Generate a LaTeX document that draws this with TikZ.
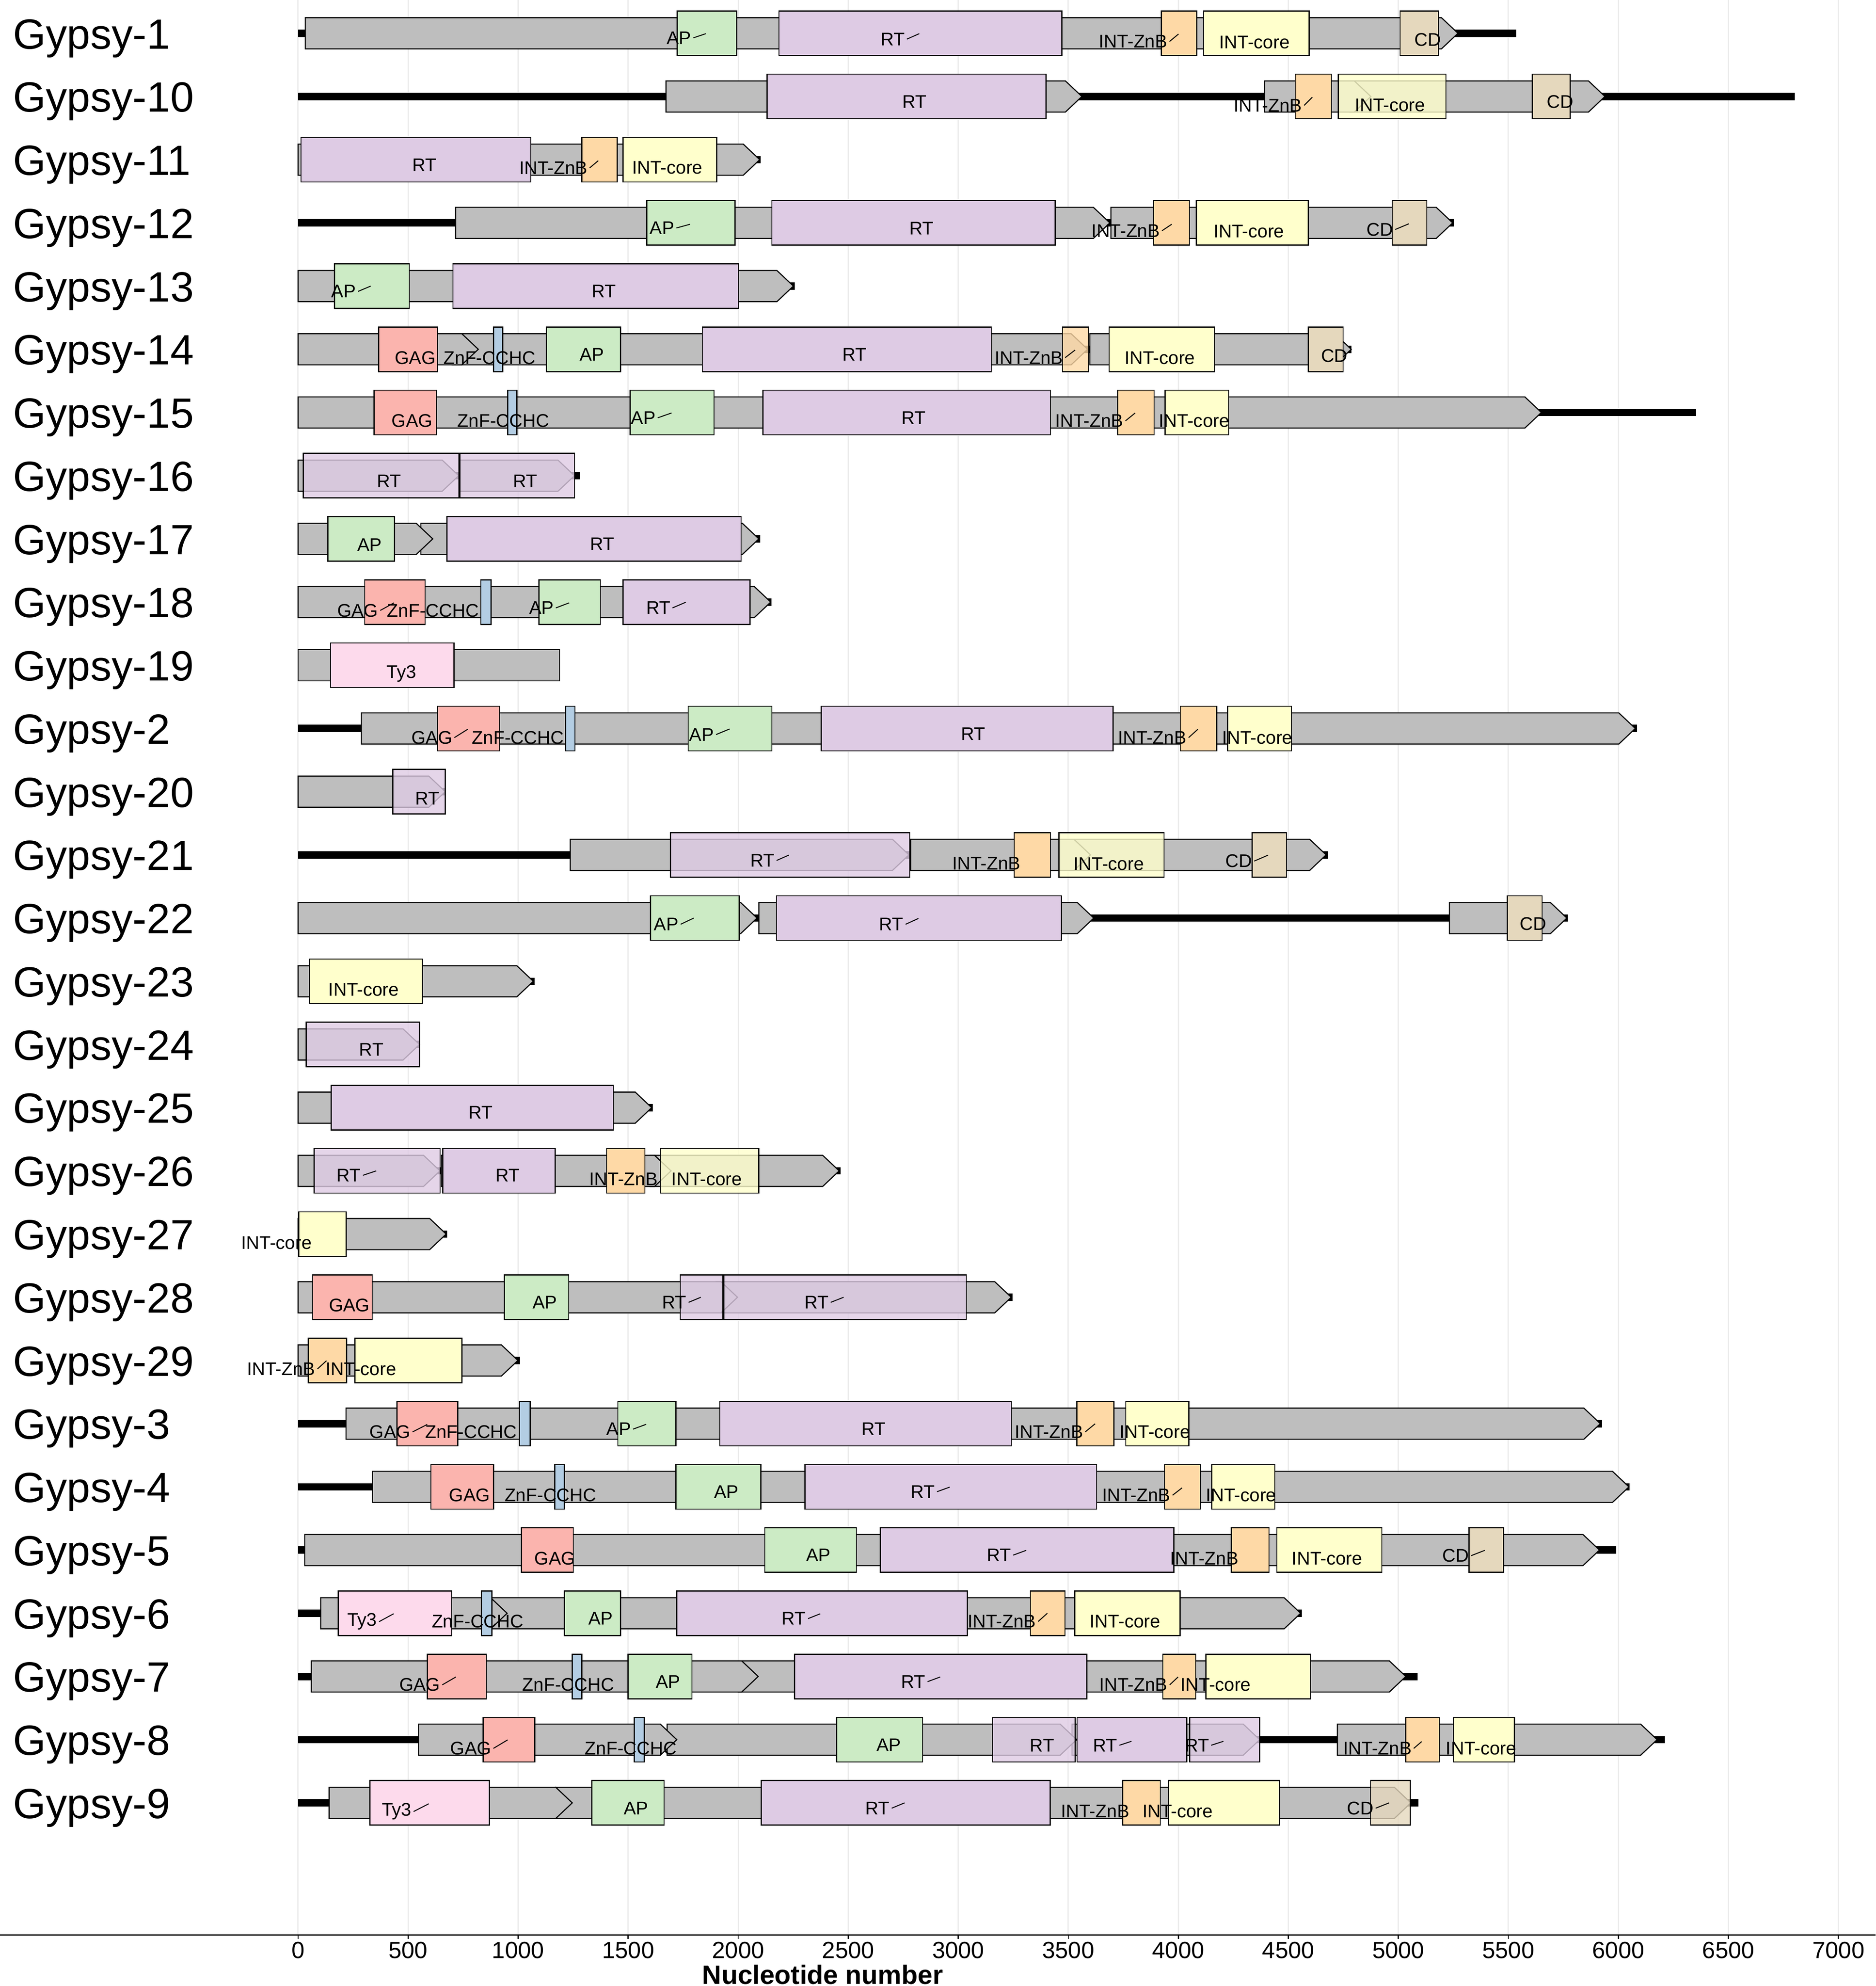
\documentclass[tikz,border=0pt]{standalone}
\usepackage{fontspec}
\setmainfont{Liberation Sans}
\usepackage{tikz}
\definecolor{gagpink}{HTML}{FBB4AE}
\definecolor{znfblue}{HTML}{B3CDE3}
\definecolor{apgreen}{HTML}{CCEBC5}
\definecolor{rtlilac}{HTML}{DECBE4}
\definecolor{znborange}{HTML}{FED9A6}
\definecolor{coreyellow}{HTML}{FFFFCC}
\definecolor{cdtan}{HTML}{E5D8BD}
\definecolor{tyrose}{HTML}{FDDAEC}
\definecolor{genegrey}{HTML}{BEBEBE}
\definecolor{gridgrey}{HTML}{EBEBEB}

\begin{document}
\begin{tikzpicture}[x=0.17386pt, y=-49.92pt,
  gene/.style={draw=black, line width=0.85pt, fill=genegrey},
  dom/.style={draw=black, line width=0.85pt},
  gagbox/.style={dom, fill=gagpink},
  znfbox/.style={dom, fill=znfblue},
  apbox/.style={dom, fill=apgreen},
  rtbox/.style={dom, fill=rtlilac},
  znbbox/.style={dom, fill=znborange},
  corebox/.style={dom, fill=coreyellow},
  cdbox/.style={dom, fill=cdtan},
  tybox/.style={dom, fill=tyrose},
  rtfade/.style={rtbox, fill opacity=0.8},
  znbfade/.style={znbbox, fill opacity=0.8},
  corefade/.style={corebox, fill opacity=0.8},
  cdfade/.style={cdbox, fill opacity=0.8},
  lab/.style={anchor=base, inner sep=0pt, font=\fontsize{14.5}{14.5}\selectfont},
  seg/.style={line width=0.75pt},
  rowlab/.style={anchor=base west, inner sep=0pt, font=\fontsize{33.4}{33.4}\selectfont},
  ticklab/.style={anchor=base, inner sep=0pt, font=\fontsize{18.5}{18.5}\selectfont}]
\useasboundingbox (-1354.6,-0.5268) rectangle (7169.6,30.898);
% Grid for plotting
\foreach \t in {0,500,...,7000} \draw[gridgrey, line width=1pt] (\t,-0.5268) -- (\t,30.092);
% element extent
\foreach \r/\e in {0/5536,1/6802,2/2103,3/5252,4/2257,5/4787,6/6353,7/1280,8/2100,9/2151,
  10/1188,11/6085,12/669,13/4680,14/5770,15/1075,16/552,17/1612,18/2465,19/677,
  20/3246,21/1008,22/5925,23/6051,24/5990,25/4562,26/5088,27/6211,28/5091}
  \draw[line width=5.8pt] (0,\r) -- (\e,\r);
% genes
\foreach \r/\a/\b in {0/33/5271, 1/1672/3562, 1/4780/5939, 1/4392/4875, 2/0/2098,
  3/716/3689, 3/3694/5247, 4/0/2251, 5/700/3588, 5/0/819, 5/3598/4786, 6/0/5650,
  7/0/730, 7/734/1256, 8/558/2094, 8/0/612, 9/0/2148, 11/288/6077, 12/0/669,
  13/1237/2776, 13/3500/4672, 13/2784/3601, 14/0/2086, 14/2094/3616, 14/5232/5766,
  15/0/1069, 16/0/552, 17/0/1607, 18/0/645, 18/1600/2459, 18/651/1695, 19/0/673,
  20/1900/3241, 20/0/1997, 21/0/999, 22/218/5918, 23/338/6048, 24/30/5914,
  25/850/4556, 25/103/950, 26/2000/5034, 26/60/2091, 27/3517/4370, 27/1677/3538,
  27/547/1721, 27/4723/6176, 28/1170/5057, 28/141/1246}
  \draw[gene] (\a,\r-0.2464) -- (\b-75,\r-0.2464) -- (\b,\r) -- (\b-75,\r+0.2464) -- (\a,\r+0.2464) -- cycle;
\draw[gene] (0,10-0.2464) rectangle (1188,10+0.2464);
% domains
\foreach \r/\a/\b/\s in {0/1723/1993/apbox, 0/2185/3471/rtbox, 0/3923/4084/znbbox, 0/4115/4595/corebox, 0/5008/5182/cdbox,
  1/2131/3399/rtbox, 1/4531/4696/znbbox, 1/4727/5216/corefade, 1/5609/5781/cdbox,
  2/13/1058/rtbox, 2/1290/1450/znbbox, 2/1477/1902/corebox,
  3/1585/1986/apbox, 3/2153/3441/rtbox, 3/3888/4051/znbbox, 3/4082/4591/corebox, 3/4972/5129/cdbox,
  4/166/505/apbox, 4/704/2002/rtbox,
  5/366/634/gagbox, 5/888/930/znfbox, 5/1129/1465/apbox, 5/1837/3150/rtbox, 5/3474/3593/znbfade, 5/3686/4164/corebox, 5/4591/4749/cdbox,
  6/345/629/gagbox, 6/953/994/znfbox, 6/1509/1890/apbox, 6/2112/3419/rtbox, 6/3724/3890/znbbox, 6/3940/4229/corebox,
  7/24/730/rtfade, 7/735/1256/rtfade,
  8/135/438/apbox, 8/676/2013/rtbox,
  9/303/577/gagbox, 9/831/877/znfbox, 9/1095/1374/apbox, 9/1477/2054/rtbox,
  10/148/709/tybox,
  11/634/916/gagbox, 11/1216/1258/znfbox, 11/1773/2153/apbox, 11/2377/3704/rtbox, 11/4009/4175/znbbox, 11/4224/4514/corebox,
  12/431/669/rtfade,
  13/1692/2779/rtfade, 13/3254/3419/znbbox, 13/3458/3935/corefade, 13/4335/4492/cdbox,
  14/1602/2005/apbox, 14/2174/3469/rtbox, 14/5495/5653/cdbox,
  15/51/565/corebox,
  16/37/552/rtfade,
  17/151/1432/rtbox,
  18/73/645/rtfade, 18/658/1168/rtbox, 18/1402/1576/znbbox, 18/1646/2094/corefade,
  19/3/219/corebox,
  20/66/337/gagbox, 20/937/1230/apbox, 20/1737/1931/rtfade, 20/1935/3037/rtfade,
  21/46/220/znbbox, 21/258/745/corebox,
  22/449/726/gagbox, 22/1006/1055/znfbox, 22/1453/1717/apbox, 22/1917/3241/rtbox, 22/3539/3707/znbbox, 22/3761/4048/corebox,
  23/604/888/gagbox, 23/1166/1210/znfbox, 23/1717/2103/apbox, 23/2304/3629/rtbox, 23/3937/4100/znbbox, 23/4152/4439/corebox,
  24/1015/1251/gagbox, 24/2121/2537/apbox, 24/2646/3980/rtbox, 24/4241/4412/znbbox, 24/4448/4925/corebox, 24/5321/5478/cdbox,
  25/183/698/tybox, 25/834/881/znfbox, 25/1210/1465/apbox, 25/1721/3041/rtbox, 25/3328/3485/znbbox, 25/3530/4008/corebox,
  26/587/855/gagbox, 26/1246/1289/znfbox, 26/1500/1790/apbox, 26/2256/3584/rtbox, 26/3930/4079/znbbox, 26/4126/4601/corebox,
  27/841/1076/gagbox, 27/1528/1573/znfbox, 27/2447/2838/apbox, 27/3156/3532/rtfade, 27/3540/4039/rtbox, 27/4052/4370/rtfade, 27/5034/5186/znbbox, 27/5250/5527/corebox,
  28/326/869/tybox, 28/1335/1663/apbox, 28/2105/3418/rtbox, 28/3747/3918/znbbox, 28/3956/4460/corebox, 28/4874/5054/cdfade}
  \draw[\s] (\a,\r-0.3526) rectangle (\b,\r+0.3526);
% domain labels
\foreach \r/\x/\d/\t in {0/1731/3.4/AP, 0/2702/4.4/RT, 0/3795/6.3/INT-ZnB, 0/4346/6.7/INT-core, 0/5134/4.7/CD,
  1/2801/4/RT, 1/4407/6.8/INT-ZnB, 1/4962/6.7/INT-core, 1/5735/4/CD,
  2/575/4/RT, 2/1160/6.3/INT-ZnB, 2/1678/6/INT-core,
  3/1654/3.8/AP, 3/2834/4/RT, 3/3761/6/INT-ZnB, 3/4321/6.5/INT-core, 3/4916/5/CD,
  4/207/4/AP, 4/1389/4/RT,
  5/533/6.4/GAG, 5/870/6.4/ZnF-CCHC, 5/1335/4/AP, 5/2528/4/RT, 5/3321/6.4/INT-ZnB, 5/3916/6.4/INT-core, 5/4709/5/CD,
  6/518/6.4/GAG, 6/933/6.4/ZnF-CCHC, 6/1569/4/AP, 6/2798/4/RT, 6/3595/6.4/INT-ZnB, 6/4072/6.4/INT-core,
  7/414/4/RT, 7/1033/4/RT,
  8/325/4.4/AP, 8/1382/4/RT,
  9/271/6.4/GAG, 9/613/6.4/ZnF-CCHC, 9/1106/4.4/AP, 9/1637/4.4/RT,
  10/470/5/Ty3,
  11/608/7/GAG, 11/999/7/ZnF-CCHC, 11/1834/4.6/AP, 11/3068/4/RT, 11/3882/7/INT-ZnB, 11/4359/7/INT-core,
  12/587/5.3/RT,
  13/2110/4.2/RT, 13/3128/6.5/INT-ZnB, 13/3684/6.8/INT-core, 13/4275/4.7/CD,
  14/1673/4.7/AP, 14/2696/4.7/RT, 14/5613/4.3/CD,
  15/298/6.4/INT-core,
  16/333/3.7/RT,
  17/829/3.6/RT,
  18/230/3.3/RT, 18/952/3.3/RT, 18/1479/6.2/INT-ZnB, 18/1857/6.2/INT-core,
  19/-98/6.6/INT-core,
  20/233/6/GAG, 20/1121/3.8/AP, 20/1710/3.8/RT, 20/2356/3.8/RT,
  21/-77/6.5/INT-ZnB, 21/286/6.5/INT-core,
  22/418/6.3/GAG, 22/786/6.3/ZnF-CCHC, 22/1457/4.1/AP, 22/2616/4.1/RT, 22/3412/6.3/INT-ZnB, 22/3894/6.3/INT-core,
  23/779/6.4/GAG, 23/1147/6.4/ZnF-CCHC, 23/1946/3.6/AP, 23/2839/3.6/RT, 23/3809/6.4/INT-ZnB, 23/4285/6.4/INT-core,
  24/1167/6.4/GAG, 24/2364/3.8/AP, 24/3185/3.8/RT, 24/4118/6.4/INT-ZnB, 24/4676/6.4/INT-core, 24/5261/4.2/CD,
  25/291/5/Ty3, 25/816/6.3/ZnF-CCHC, 25/1375/4/AP, 25/2253/4/RT, 25/3198/6.3/INT-ZnB, 25/3758/6.3/INT-core,
  26/553/6.4/GAG, 26/1228/6.4/ZnF-CCHC, 26/1682/3.9/AP, 26/2796/3.9/RT, 26/3796/6.4/INT-ZnB, 26/4170/6.4/INT-core,
  27/785/6.7/GAG, 27/1512/6.7/ZnF-CCHC, 27/2684/4/AP, 27/3381/4.2/RT, 27/3668/4.2/RT, 27/4085/4.2/RT, 27/4905/6.7/INT-ZnB, 27/5376/6.7/INT-core,
  28/448/5.2/Ty3, 28/1536/4/AP, 28/2633/4/RT, 28/3622/6.5/INT-ZnB, 28/3997/6.5/INT-core, 28/4827/4/CD}
  \node[lab] (lab\r-\x) at (\x,{\r+(\d+5.2)/49.92}) {\t};
% repel segments from labels to domain centres
\foreach \r/\l/\xb/\db in {0/1731/1853/0.3, 0/2702/2823/0.3, 0/3795/4001/0.6, 1/4407/4609/0.6,
  2/1160/1364/0.8, 3/1654/1781/1.1, 3/3761/3970/1.1, 3/4916/5048/0.7, 4/207/330/0,
  5/3321/3531/0.6, 6/1569/1697/0.4, 6/3595/3804/0.4, 9/271/436/0.6, 9/1106/1232/0.6,
  9/1637/1762/0.1, 11/608/771/0.6, 11/1834/1961/0.4, 11/3882/4089/0.6, 13/2110/2230/0.2,
  13/4275/4408/0.2, 14/1673/1798/0, 14/2696/2819/0.3, 18/230/355/0, 20/1710/1830/0,
  20/2356/2479/0, 21/-77/129/0.2, 22/418/587/0.6, 22/1457/1582/0.5, 22/3412/3622/0.1,
  23/2839/2961/0.2, 23/3809/4017/0.8, 24/3185/3309/0.2, 24/5261/5393/0.2, 25/291/434/0.4,
  25/2253/2373/0.4, 25/3198/3405/0, 26/553/717/0.4, 26/2796/2918/0.4, 26/3796/3999/0.4,
  27/785/952/0.2, 27/3668/3787/1.3, 27/4085/4205/1.3, 27/4905/5106/1.5, 28/448/594/0.7,
  28/2633/2756/0, 28/4827/4958/0}
  {\coordinate (pin\r-\l) at (\xb,{\r+\db/49.92});
   \draw[seg] ([xshift=1.5pt]lab\r-\l.east) -- (pin\r-\l);}
% row names
\foreach \n [count=\i from 0] in {1,10,11,12,13,14,15,16,17,18,19,2,20,21,22,23,24,25,26,27,28,29,3,4,5,6,7,8,9}
  \node[rowlab] (row\n) at (-1297,{\i+12.2/49.92}) {Gypsy-\n};
% axis
\draw[line width=1.1pt] (-1354.6,30.092) -- (7169.6,30.092);
\foreach \t in {0,500,...,7000} {
  \draw[line width=0.9pt] (\t,30.092) -- (\t,30.155);
  \node[ticklab] (tick\t) at (\t,30.457) {\t};}
\node[anchor=base, inner sep=0pt, font=\fontsize{21}{21}\selectfont\bfseries] (xtitle) at (2384,30.87) {Nucleotide number};
\end{tikzpicture}
\end{document}
